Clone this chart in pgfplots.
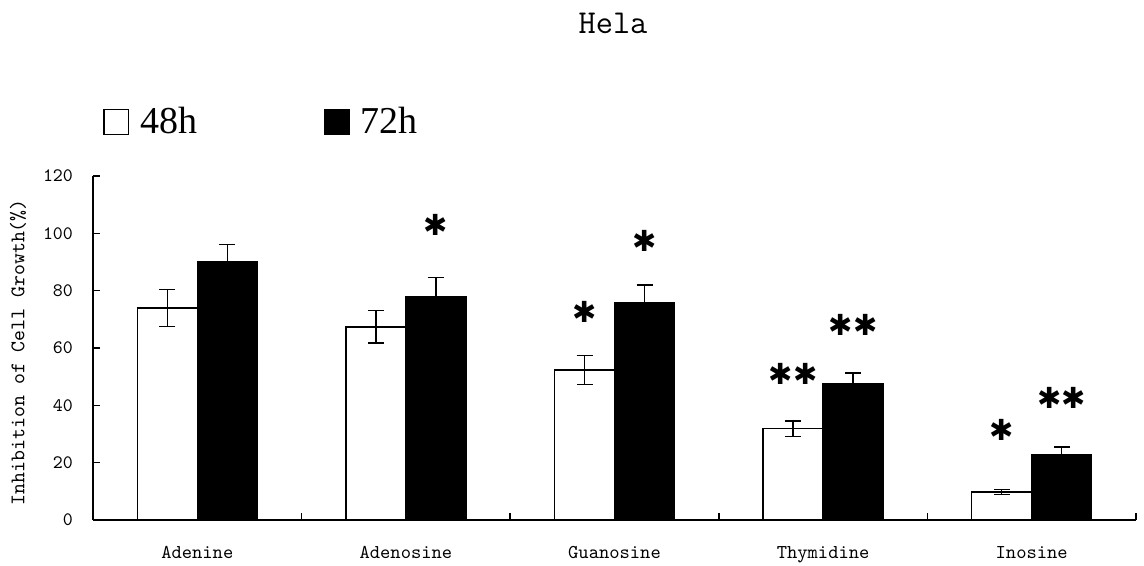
\documentclass[border=0pt]{standalone}
\usepackage{fontspec}
\usepackage{pgfplots}
\usepackage{pgfplotstable}
\pgfplotsset{compat=1.18}
\setmainfont{Liberation Serif}
\newfontfamily\starfont{DejaVu Sans}

\pgfplotstableread{
x y e
0 73.9 6.5
1 67.4 5.7
2 52.3 5.0
3 31.9 2.7
4 9.7 0.9
}\whitedata
\pgfplotstableread{
x y e
0 90.1 6.0
1 77.9 6.7
2 75.7 6.3
3 47.6 3.7
4 22.9 2.5
}\blackdata

\begin{document}
\begin{tikzpicture}
\path[use as bounding box] (-46.5pt,-23pt) rectangle (525.5pt,260pt);
\begin{axis}[
  scale only axis, width=521.5pt, height=172pt,
  at={(0,0)}, anchor=south west,
  ybar=0pt, bar width=30pt,
  xmin=-0.5, xmax=4.5, ymin=0, ymax=120,
  enlargelimits=false, clip=false,
  axis lines=left, axis line style={-, line width=0.8pt},
  xtick={0,1,2,3,4},
  xticklabels={Adenine,Adenosine,Guanosine,Thymidine,Inosine},
  major x tick style={draw=none},
  minor xtick={0.5,1.5,2.5,3.5,4.5},
  minor x tick style={line width=0.8pt, black},
  minor tick length=3.3pt,
  ytick={0,20,...,120},
  tick align=inside,
  major y tick style={line width=0.8pt, black},
  major tick length=3.5pt,
  yticklabel style={font=\ttfamily\fontsize{9.5}{11}\selectfont, xshift=-6.5pt},
  xticklabel style={font=\ttfamily\fontsize{9.8}{11}\selectfont, yshift=-9.5pt},
  /pgf/number format/assume math mode=true,
  ylabel={Inhibition of Cell Growth(\%)},
  ylabel style={font=\ttfamily\fontsize{10.4}{12}\selectfont, at={(axis description cs:-0.072,0.488)}, anchor=center},
  title={Hela},
  title style={font=\ttfamily\fontsize{16.7}{18}\selectfont, at={(axis description cs:0.4986,1.41)}, anchor=center},
  legend columns=2,
  legend style={draw=none, fill=none, font=\fontsize{19}{22}\selectfont,
    at={(axis description cs:0.0096,1.157)}, anchor=west, inner sep=0pt,
    /tikz/every even column/.append style={column sep=61.5pt}},
  legend image code/.code={\draw[#1, line width=0.7pt] (0pt,-6.3pt) rectangle (12.3pt,6.3pt);
    \path[draw=none, fill=none] (0pt,0pt) -- (16pt,0pt);},
]
\addplot[fill=white, draw=black, line width=0.75pt,
  error bars/.cd, y dir=both, y explicit,
  error bar style={line width=0.7pt, black},
  error mark options={rotate=90, mark size=4pt, line width=0.7pt, black}]
  table[x=x, y=y, y error=e]{\whitedata};
\addlegendentry{48h}
\addplot[fill=black, draw=black, line width=0.75pt,
  error bars/.cd, y dir=plus, y explicit,
  error bar style={line width=0.7pt, black},
  error mark options={rotate=90, mark size=4pt, line width=0.7pt, black}]
  table[x=x, y=y, y error=e]{\blackdata};
\addlegendentry{72h}
\begin{scope}[every node/.style={font=\starfont\fontsize{14.5}{16}\selectfont, inner sep=0pt, anchor=center}]
\node at (axis cs:1.144,102.9) {✱};
\node at (axis cs:1.856,72.5) {✱};
\node at (axis cs:2.144,97.3) {✱};
\node at (axis cs:2.856,50.9) {✱✱};
\node at (axis cs:3.144,68.0) {✱✱};
\node at (axis cs:3.856,31.4) {✱};
\node at (axis cs:4.144,42.6) {✱✱};
\end{scope}
\end{axis}
\end{tikzpicture}
\end{document}
